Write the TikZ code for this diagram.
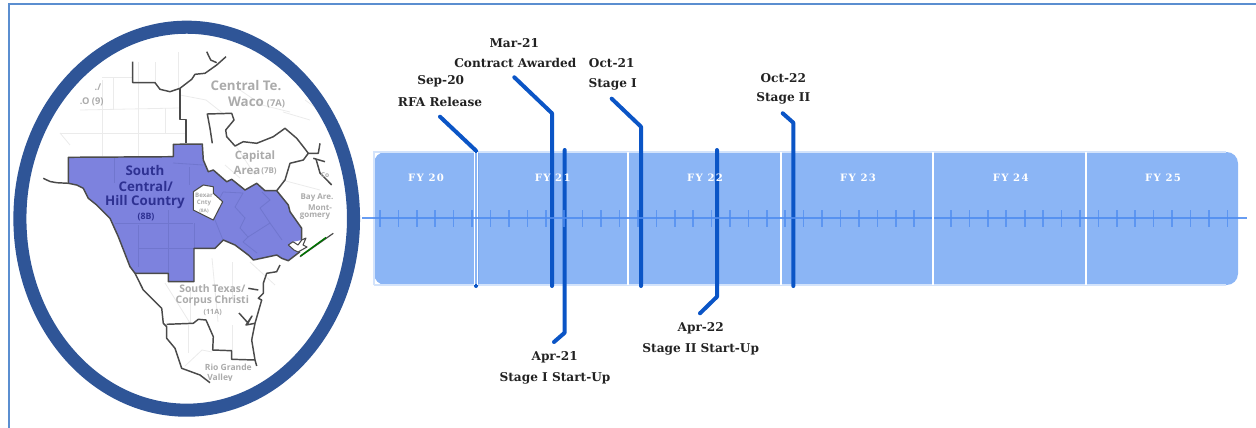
\documentclass[tikz,border=0pt]{standalone}
\usepackage{fontspec}
\setmainfont{DejaVu Serif}
\newfontfamily\mapfont{Open Sans}
\newfontfamily\fyfont[LetterSpace=12]{DejaVu Serif}
\definecolor{framecol}{HTML}{5B8ED0}
\definecolor{ringcol}{HTML}{2F5597}
\definecolor{bandcol}{HTML}{8BB5F5}
\definecolor{bandedge}{HTML}{D3E3FB}
\definecolor{axiscol}{HTML}{4E8CF0}
\definecolor{mscol}{HTML}{0B55C6}
\definecolor{purplecol}{HTML}{7D82DE}
\definecolor{purpleline}{HTML}{7076CE}
\definecolor{outlinecol}{HTML}{4A4A4A}
\definecolor{countycol}{HTML}{EBEBEB}
\definecolor{graytxt}{HTML}{ABABAB}
\definecolor{darktxt}{HTML}{2E3192}
\definecolor{labeltxt}{HTML}{222222}
\tikzset{
  framestyle/.style={draw=framecol,line width=1.5pt},
  outl/.style={draw=outlinecol,line width=1.1pt,line join=round},
  county/.style={draw=countycol,line width=0.6pt},
  pcounty/.style={draw=purpleline,line width=0.6pt},
  maplbl/.style={font=\mapfont\bfseries\fontsize{#1}{#1}\selectfont,text=graytxt,inner sep=0pt},
  hilbl/.style={font=\mapfont\bfseries\fontsize{#1}{#1}\selectfont,text=darktxt,inner sep=0pt},
  yearline/.style={draw=white,line width=1.2pt},
  fylbl/.style={font=\fyfont\bfseries\fontsize{7.6}{8}\selectfont,text=white,inner sep=0pt},
  mslbl/.style={font=\bfseries\fontsize{9.1}{10}\selectfont,text=labeltxt,inner sep=0pt},
  msline/.style={draw=mscol,line width=3pt,line cap=round,line join=round},
  tickline/.style={draw=axiscol,line width=1.2pt,opacity=.75},
}
\begin{document}
\begin{tikzpicture}[x=0.75pt,y=-0.75pt]
\useasboundingbox (0,0) rectangle (1256,428);
\draw[framestyle] (8.5,428) -- (8.5,4.5) -- (1256,4.5);

% ---------- map: faint county lines
\foreach \a/\b in {{60,133}/{186,133},{102,77}/{133,77},{102,80}/{102,156},{138,62}/{138,156},{113,77}/{113,110},{80,110}/{180,108},{155,62}/{155,83},{178,52}/{178,88},{165,108}/{165,133},{180,95}/{206,100},{206,100}/{225,115},{240,90}/{262,105},{262,105}/{290,112},{236,146}/{255,175},{283,112}/{310,120},{305,100}/{340,125},{225,165}/{240,178},{282,180}/{320,190},{190,290}/{190,323},{232,262}/{232,300},{165,283}/{190,323},{188,323}/{188,353},{232,325}/{232,350},{250,262}/{275,285},{212,258}/{218,322},{185,366}/{202,350},{202,350}/{212,352},{60,133}/{70,145}}{
  \draw[county] (\a) -- (\b);
}
% ---------- map: purple region
\fill[purplecol] (68.3,157.3) -- (173.3,156.7) -- (173.3,144.3) -- (202.3,144) -- (203.3,160) -- (208.3,171.7) -- (213.3,170) -- (226.7,181.7) -- (231.7,179.3) -- (245,190) -- (256.7,183.3) -- (265,190.7) -- (276.7,190.7) -- (288.3,205) -- (290,211.7) -- (301.7,228.3) -- (301.7,240) -- (293.3,241.7) -- (288.3,245) -- (294,250) -- (300,251.7) -- (288.3,260.7) -- (281.7,258.3) -- (276.7,255) -- (253.3,260) -- (248.3,255) -- (235,245) -- (223.3,240) -- (215,248.3) -- (194,248.3) -- (194,281.7) -- (168.3,281.7) -- (168.3,273.3) -- (135,273.3) -- (130,266.7) -- (118.3,236.7) -- (110,218.3) -- (96.7,205) -- (88.3,198.3) -- (83.3,188.3) -- (76.7,185) -- (68.3,183.3) -- cycle;
\foreach \a/\b in {{114,158}/{114,183},{138,225}/{138,267},{168,210}/{168,273},{115,223}/{193,223},{138,248}/{194,248},{194,223}/{194,248},{173,163}/{203,165},{189,167}/{189,185},{223,192}/{243,193},{243,193}/{235,207},{235,207}/{245,218},{245,218}/{240,228},{240,228}/{248,237},{248,237}/{270,223},{270,223}/{260,208},{260,208}/{270,200},{270,200}/{262,192},{270,223}/{282,240},{248,237}/{243,242},{243,242}/{257,253},{213,215}/{223,240},{223,192}/{216,205}}{
  \draw[pcounty] (\a) -- (\b);
}
% Bexar hole
\fill[white,draw=outlinecol,line width=0.8pt,line join=round] (193.3,191.7) -- (203.3,185) -- (213.3,186.7) -- (213.3,193.3) -- (222.7,201.7) -- (213.3,220) -- (193.3,210) -- cycle;
% dark outlines
\draw[outl] (68.3,183.3) -- (68.3,157.3) -- (173.3,156.7) -- (173.3,144.3) -- (202.3,144) -- (203.3,160) -- (208.3,171.7) -- (213.3,170) -- (226.7,181.7) -- (231.7,179.3) -- (245,190) -- (256.7,183.3) -- (265,190.7) -- (276.7,190.7) -- (288.3,205) -- (290,211.7) -- (301.7,228.3) -- (301.7,240);
\draw[outl] (43.3,178.3) -- (50,181.5) -- (56.7,182.7) -- (68.3,183.3) -- (76.7,185) -- (83.3,188.3) -- (88.3,198.3) -- (96.7,205) -- (110,218.3) -- (118.3,236.7) -- (130,266.7) -- (135,273.3) -- (143.3,290) -- (161.7,308.3) -- (163.3,323.3) -- (166.7,326.7) -- (166.7,338.3) -- (175,348.3) -- (181.7,368.3) -- (200,375) -- (210,382.7);
\draw[outl] (135,273.3) -- (168.3,273.3) -- (168.3,281.7) -- (194,281.7) -- (194,248.3) -- (215,248.3) -- (223.3,240) -- (235,245) -- (248.3,255) -- (253.3,260) -- (276.7,255) -- (281.7,258.3) -- (288.3,260.7) -- (300,251.7);
% north boundaries
\draw[outl] (132.7,61.7) -- (132.7,82.7) -- (155,82.7) -- (160,89.3) -- (170,91.7) -- (180,88.3) -- (191.7,79.3) -- (195,74.3) -- (205,73.3) -- (216.7,65) -- (226,56.7);
\draw[outl] (206.7,51.7) -- (210.7,60) -- (216.7,62.7);
\draw[outl] (180,88.3) -- (180,119.3) -- (186,119.3) -- (186,143.3);
\draw[outl] (212.3,143.3) -- (210,128.3) -- (207.3,114) -- (231.7,113.3) -- (234,120) -- (225.7,130) -- (226.7,136.7) -- (235,146) -- (243.3,141.7) -- (256.7,143.3) -- (273.3,136.7) -- (285,128.3) -- (296.7,138.3) -- (303.3,146.7) -- (308.3,153.3) -- (303.3,160) -- (290,163.3) -- (285,180) -- (276.7,190.7);
\draw[outl] (308.3,153.3) -- (318.3,153.3) -- (320,143.3);
\draw[outl] (313.3,158.3) -- (325,161.7);
\draw[outl] (316,159) -- (320,173) -- (331.7,185);
% coast and south
\draw[outl] (280,265) -- (276.7,271.7) -- (266.7,273.3) -- (263.3,283.3) -- (263.3,293.3) -- (258.3,298.3) -- (261.7,300) -- (255,323.3) -- (251.7,340) -- (255,360) -- (256.7,366);
\draw[outl] (248.3,288.3) -- (258.3,290);
\draw[outl] (239,313) -- (248,323) -- (252,316) -- (246,325) -- (255,323.3);
\draw[outl] (166.7,324.3) -- (193.3,323.3) -- (198.3,319.3) -- (206,320) -- (213.3,336.7) -- (212.7,350) -- (231.7,350.7) -- (231.7,359.3) -- (255,360);
% bay and barrier island
\filldraw[fill=white,draw=outlinecol,line width=0.8pt,line join=round] (288.3,245) -- (293,241.7) -- (298,245) -- (301.7,240) -- (306,238) -- (303,245) -- (307,247) -- (298,252) -- (294,250) -- cycle;
\draw[outl,line width=0.9pt] (300,256.7) -- (333.3,233.3);
\draw[draw=green!45!black,line width=1.1pt] (300.5,256) -- (326,237.5);
% map labels
\node[maplbl=10] (lblcentral) at (246,86) {Central Te.};
\node[maplbl=10] (lblwaco) at (246,102.3) {Waco};
\node[maplbl=7] (lblwacon) at (276,103.5) {(7A)};
\node[maplbl=7] (lblnine) at (91.7,101.7) {.O (9)};
\node[maplbl=7] (lblslash) at (98,87) {./};
\node[maplbl=8.6] (lblcap) at (255,157) {Capital};
\node[maplbl=8.6] (lblarea) at (247,170.3) {Area};
\node[maplbl=6] (lblareanum) at (269,171) {(7B)};
\node[hilbl=10] (lblsouth) at (145,170.7) {South};
\node[hilbl=10] (lblcen) at (145.7,186) {Central/};
\node[hilbl=10] (lblhill) at (145,201.7) {Hill Country};
\node[hilbl=6.6] (lbleightb) at (146,217) {(8B)};
\node[maplbl=4.6] (lblbex) at (204,195) {Bexar};
\node[maplbl=4.6] (lblcnty) at (204,203.3) {Cnty};
\node[maplbl=3.6] (lbleighta) at (204,210.7) {(8A)};
\node[maplbl=6] (lblbay) at (317,197.3) {Bay Are.};
\node[maplbl=6] (lblmont) at (320,207.3) {Mont-};
\node[maplbl=6] (lblgom) at (315,216.7) {gomery};
\node[maplbl=5] (lblco) at (325,175) {Co};
\node[maplbl=7.8] (lblstx) at (212.3,288.3) {South Texas/};
\node[maplbl=7.8] (lblcc) at (212.3,301) {Corpus Christi};
\node[maplbl=5.4] (lbleleven) at (212.7,312.7) {(11A)};
\node[maplbl=6.4] (lblrio) at (228.3,367.7) {Rio Grande};
\begin{scope}
\clip (190,370) rectangle (250,380.5);
\node[maplbl=6.4] (lblval) at (220,378) {Valley};
\end{scope}

% ---------- ring
\draw[draw=ringcol,line width=9.8pt] (186.7,218.7) ellipse [x radius=166.8,y radius=191.5];

% ---------- band
\fill[bandcol,rounded corners=8.5pt] (374,152) rectangle (1238,285);
\draw[draw=bandedge,line width=0.8pt] (374,285) -- (374,152) -- (1226,152);
\draw[draw=bandedge,line width=0.8pt] (374,285) -- (1226,285);
% milestone anchors
\coordinate (sepA) at (440,116.7);
\coordinate (sepB) at (476,150.7);
\coordinate (sepC) at (476,286);
\coordinate (marA) at (514.3,77.3);
\coordinate (marB) at (552,113.3);
\coordinate (marC) at (552,286);
\coordinate (octA) at (611.7,98.7);
\coordinate (octB) at (641,126.7);
\coordinate (octC) at (641,286);
\coordinate (ocbA) at (782.7,113.3);
\coordinate (ocbB) at (793.3,122.7);
\coordinate (ocbC) at (793.3,286);
\coordinate (aprA) at (564.7,150);
\coordinate (aprB) at (564.7,332.7);
\coordinate (aprC) at (554,342);
\coordinate (apbA) at (717,150);
\coordinate (apbB) at (717,296.7);
\coordinate (apbC) at (700,313.3);
\foreach \x in {628,780.7,933,1086}{ \draw[yearline] (\x,152) -- (\x,285); }
\draw[msline] (sepA) -- (sepB) -- (sepC);
\draw[bandcol,line width=1.6pt] (476,153) -- (476,284);
\draw[white,line width=0.7pt] (474.2,152) -- (474.2,285);
\draw[white,line width=0.7pt] (477.8,152) -- (477.8,285);
\draw[msline] (marA) -- (marB) -- (marC);
\draw[msline] (octA) -- (octB) -- (octC);
\draw[msline] (ocbA) -- (ocbB) -- (ocbC);
\draw[msline] (aprA) -- (aprB) -- (aprC);
\draw[msline] (apbA) -- (apbB) -- (apbC);
% axis
\coordinate (axL) at (362,218);
\coordinate (axR) at (1247,218);
\draw[draw=axiscol,line width=1.5pt,opacity=.85] (axL) -- (axR);
\foreach \k in {0,...,46}{
  \draw[tickline] ({380+18.42*\k},210) -- ({380+18.42*\k},226.5);
}
\draw[yearline] (933,152) -- (933,285);
% FY labels
\node[fylbl] (fy20) at (426,178) {FY 20};
\node[fylbl] (fy21) at (552.7,178) {FY 21};
\node[fylbl] (fy22) at (705,178) {FY 22};
\node[fylbl] (fy23) at (858,178) {FY 23};
\node[fylbl] (fy24) at (1010.7,178) {FY 24};
\node[fylbl] (fy25) at (1163,178) {FY 25};
% milestone labels
\node[mslbl] (t1) at (514.3,42.7) {Mar-21};
\node[mslbl] (t2) at (515.3,63.3) {Contract Awarded};
\node[mslbl] (t3) at (440.7,81.7) {Sep-20};
\node[mslbl] (t4) at (440,102.3) {RFA Release};
\node[mslbl] (t5) at (611.7,63.3) {Oct-21};
\node[mslbl] (t6) at (612.7,84) {Stage I};
\node[mslbl] (t7) at (783.3,78.3) {Oct-22};
\node[mslbl] (t8) at (783.3,98.3) {Stage II};
\node[mslbl] (t9) at (554.7,357.3) {Apr-21};
\node[mslbl] (t10) at (555,378.3) {Stage I Start-Up};
\node[mslbl] (t11) at (700.7,328.3) {Apr-22};
\node[mslbl] (t12) at (700.7,349.3) {Stage II Start-Up};
\end{tikzpicture}
\end{document}
